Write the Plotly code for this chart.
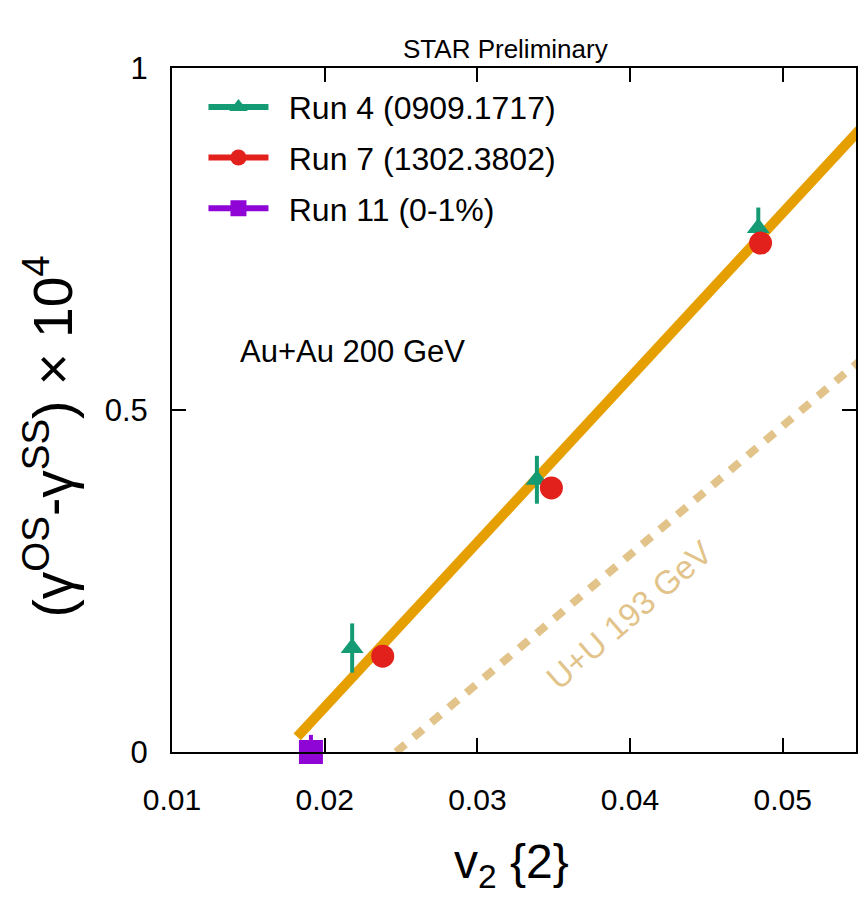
import plotly.graph_objects as go

# ---- data ----
run4_x = [0.0218, 0.0339, 0.0484]
run4_y = [0.152, 0.398, 0.766]
run4_err = [0.036, 0.035, 0.030]

run7_x = [0.0238, 0.03485, 0.04855]
run7_y = [0.140, 0.386, 0.744]
run7_err = [0.015, 0.015, 0.015]

run11_x = [0.0191]
run11_y = [0.0]
run11_err = [0.025]

fit_x = [0.0182, 0.0560]
fit_y = [0.022, 0.933]

uu_x = [0.02468, 0.0560]
uu_y = [0.0, 0.5896]

x_ticks = [0.01, 0.02, 0.03, 0.04, 0.05]
x_ticklabels = ["0.01", "0.02", "0.03", "0.04", "0.05"]
y_ticks = [0, 0.5, 1]
y_ticklabels = ["0", "0.5", "1"]

GREEN = "#149B74"
RED = "#E3211C"
PURPLE = "#8E05D6"
ORANGE = "#E69F00"
TAN = "#E2C38A"
FONT = "Liberation Sans, Arial, sans-serif"
NB = "\u00a0\u2009"

fig = go.Figure()

# lines
fig.add_trace(go.Scatter(x=uu_x, y=uu_y, mode="lines",
                         line=dict(color=TAN, width=8, dash="12px,11px"),
                         showlegend=False, hoverinfo="skip"))
fig.add_trace(go.Scatter(x=fit_x, y=fit_y, mode="lines",
                         line=dict(color=ORANGE, width=10),
                         showlegend=False, hoverinfo="skip"))

# data points
fig.add_trace(go.Scatter(x=run4_x, y=run4_y, mode="markers",
                         marker=dict(symbol="triangle-up", size=20, color=GREEN),
                         error_y=dict(type="data", array=run4_err, color=GREEN,
                                      thickness=4, width=0),
                         showlegend=False))
fig.add_trace(go.Scatter(x=run7_x, y=run7_y, mode="markers",
                         marker=dict(symbol="circle", size=23, color=RED),
                         error_y=dict(type="data", array=run7_err, color=RED,
                                      thickness=4, width=0),
                         showlegend=False))
fig.add_trace(go.Scatter(x=run11_x, y=run11_y, mode="markers",
                         marker=dict(symbol="square", size=24, color=PURPLE),
                         error_y=dict(type="data", array=run11_err, color=PURPLE,
                                      thickness=4, width=0),
                         showlegend=False, cliponaxis=False))

# legend entries
for i, (name, sym, col) in enumerate([("Run 4 (0909.1717)", "triangle-up", GREEN),
                                      ("Run 7 (1302.3802)", "circle", RED),
                                      ("Run 11 (0-1%)", "square", PURPLE)]):
    fig.add_trace(go.Scatter(x=[None], y=[None], mode="lines+markers", name=NB + name,
                             legendgroup="g%d" % i,
                             line=dict(color=col, width=6),
                             marker=dict(symbol=sym, size=16, color=col)))

fig.add_annotation(x=0.0218, y=0.585, xref="x", yref="y", text="Au+Au 200 GeV",
                   showarrow=False, xanchor="center", yanchor="middle",
                   font=dict(family=FONT, size=31, color="black"))
fig.add_annotation(x=0.0399, y=0.200, xref="x", yref="y", text="U+U 193 GeV",
                   showarrow=False, textangle=-41, xanchor="center", yanchor="middle",
                   font=dict(family=FONT, size=33, color=TAN))
fig.add_annotation(x=0.487, y=1.0, xref="paper", yref="paper", text="STAR Preliminary",
                   showarrow=False, xanchor="center", yanchor="bottom", yshift=2,
                   font=dict(family=FONT, size=26, color="black"))
fig.add_annotation(x=-0.18, y=0.461, xref="paper", yref="paper",
                   text="(γ<sup>OS</sup>-γ<sup>SS</sup>) × 10<sup>4</sup>",
                   showarrow=False, textangle=-90, xanchor="center", yanchor="middle",
                   font=dict(family=FONT, size=55, color="black"))
fig.add_annotation(x=0.496, y=-0.165, xref="paper", yref="paper",
                   text="v<sub>2</sub> {2}", showarrow=False,
                   xanchor="center", yanchor="middle",
                   font=dict(family=FONT, size=48, color="black"))

fig.update_layout(
    width=858, height=906,
    margin=dict(l=172, r=0, t=68, b=154),
    plot_bgcolor="white", paper_bgcolor="white",
    showlegend=True,
    legend=dict(x=0.046, y=0.983, xanchor="left", yanchor="top",
                font=dict(family=FONT, size=32, color="black"),
                itemwidth=60, itemsizing="trace", bgcolor="rgba(0,0,0,0)",
                tracegroupgap=6),
    xaxis=dict(range=[0.01, 0.0548], tickvals=x_ticks, ticktext=x_ticklabels,
               showgrid=False, zeroline=False, showline=True, linecolor="black",
               linewidth=2, mirror="ticks", ticks="inside", ticklen=14,
               tickwidth=1.5, tickcolor="black", ticklabelstandoff=20,
               tickfont=dict(family=FONT, size=30, color="black")),
    yaxis=dict(range=[0, 1], tickvals=y_ticks, ticktext=y_ticklabels,
               showgrid=False, zeroline=False, showline=True, linecolor="black",
               linewidth=2, mirror="ticks", ticks="inside", ticklen=14,
               tickwidth=1.5, tickcolor="black", ticklabelstandoff=16,
               tickfont=dict(family=FONT, size=31, color="black")),
)

fig.write_html("out.html")
